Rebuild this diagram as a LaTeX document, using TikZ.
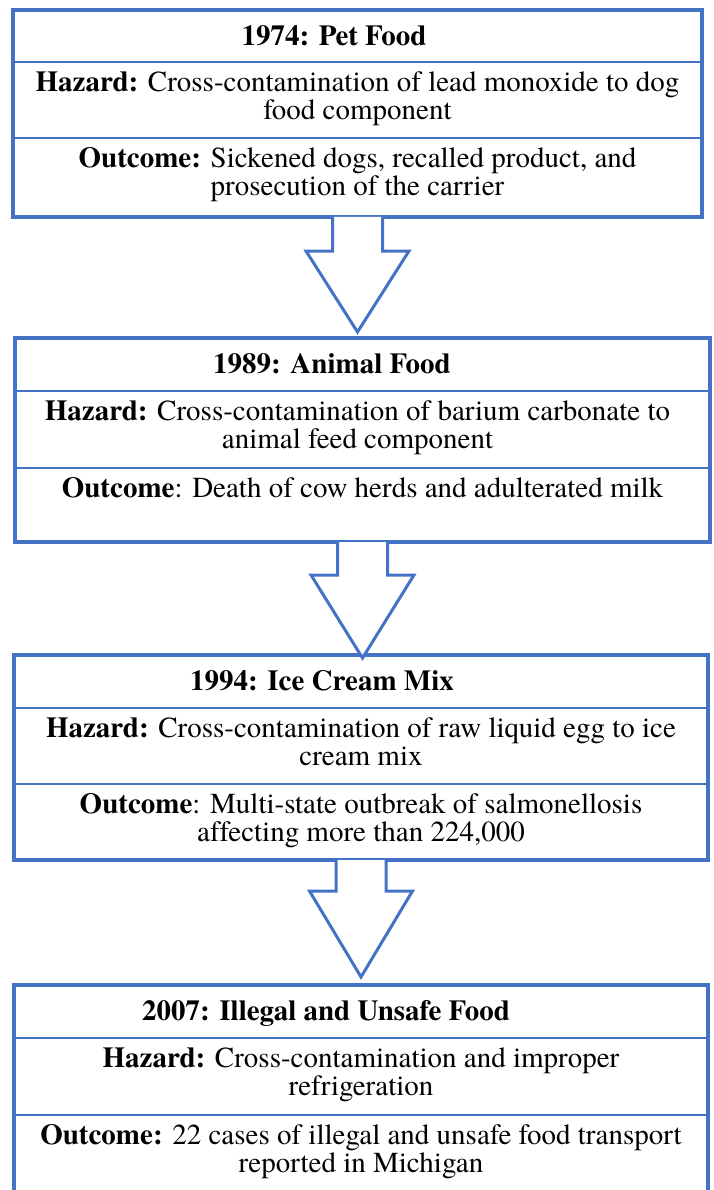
\documentclass[tikz,border=0pt]{standalone}
\usepackage{fontspec}
\setmainfont{texgyretermes}[Extension=.otf,
  UprightFont=*-regular, BoldFont=*-bold,
  ItalicFont=*-italic, BoldItalicFont=*-bolditalic,
  Ligatures=NoCommon]
\usetikzlibrary{calc}
\definecolor{boxblue}{HTML}{4472C4}
\begin{document}
\begin{tikzpicture}
  [x=1pt,y=-1pt,
  box/.style = {rectangle, draw=boxblue, line width=4pt,
                inner sep=0pt, outer sep=0pt},
  rule/.style = {draw=boxblue, line width=2.5pt},
  txt/.style = {align=center, inner sep=0pt, anchor=north,
                font=\fontsize{29}{28}\selectfont,
                execute at begin node=\strut},
  hdr/.style = {txt, font=\fontsize{29}{28}\selectfont\bfseries},
  flow/.style = {draw=boxblue, fill=white, line width=3pt}]
  \useasboundingbox (0,0) rectangle (714,1190);
  \node[box, minimum width=689pt, minimum height=207pt] (pet) at (357.5,113.5) {};
  \node[box, minimum width=695pt, minimum height=204pt] (animal) at (362.5,440) {};
  \node[box, minimum width=694pt, minimum height=205pt] (icecream) at (361,757.5) {};
  \node[box, minimum width=694pt, minimum height=209pt] (illegal) at (361,1089.5) {};
  \draw[rule] ($(pet.north west)+(0,52)$) -- ($(pet.north east)+(0,52)$);
  \draw[rule] ($(pet.north west)+(0,128)$) -- ($(pet.north east)+(0,128)$);
  \draw[rule] ($(animal.north west)+(0,53)$) -- ($(animal.north east)+(0,53)$);
  \draw[rule] ($(animal.north west)+(0,130)$) -- ($(animal.north east)+(0,130)$);
  \draw[rule] ($(icecream.north west)+(0,53)$) -- ($(icecream.north east)+(0,53)$);
  \draw[rule] ($(icecream.north west)+(0,129)$) -- ($(icecream.north east)+(0,129)$);
  \draw[rule] ($(illegal.north west)+(0,53)$) -- ($(illegal.north east)+(0,53)$);
  \draw[rule] ($(illegal.north west)+(0,130)$) -- ($(illegal.north east)+(0,130)$);
  \draw[flow] ($(pet.south)+(-25,0)$) -- ++(0,34) -- ++(-26.5,0)
    -- ($(pet.south |- animal.north)+(0,-6)$) -- ($(pet.south)+(51.5,34)$)
    -- ++(-26.5,0) -- ++(0,-34);
  \draw[flow] ($(animal.south)+(-25,0)$) -- ++(0,33) -- ++(-26.5,0)
    -- ($(animal.south |- icecream.north)+(0,3)$) -- ($(animal.south)+(51.5,33)$)
    -- ++(-26.5,0) -- ++(0,-33);
  \draw[flow] ($(icecream.south)+(-25,0)$) -- ++(0,31) -- ++(-26.5,0)
    -- ($(icecream.south |- illegal.north)+(0,-8)$) -- ($(icecream.south)+(51.5,31)$)
    -- ++(-26.5,0) -- ++(0,-31);
  \node[hdr] (pettitle) at ($(pet.north)+(-23.5,15.4)$) {1974: Pet Food};
  \node[txt] (pethazard) at ($(pet.north)+(0,61.4)$)
    {\textbf{Hazard:} Cross-contamination of lead monoxide to dog\\food component};
  \node[txt] (petoutcome) at ($(pet.north)+(0,137.4)$)
    {\textbf{Outcome:} Sickened dogs, recalled product, and\\prosecution of the carrier};
  \node[hdr] (animaltitle) at ($(animal.north)+(-30.5,15.4)$) {1989: Animal Food};
  \node[txt] (animalhazard) at ($(animal.north)+(-5,62.4)$)
    {\textbf{Hazard:} Cross-contamination of barium carbonate to\\animal feed component};
  \node[txt] (animaloutcome) at ($(animal.north)+(0,139.4)$)
    {\textbf{Outcome}: Death of cow herds and adulterated milk};
  \node[hdr] (icecreamtitle) at ($(icecream.north)+(-39,15.4)$) {1994: Ice Cream Mix};
  \node[txt] (icecreamhazard) at ($(icecream.north)+(0,62.4)$)
    {\textbf{Hazard:} Cross-contamination of raw liquid egg to ice\\cream mix};
  \node[txt] (icecreamoutcome) at ($(icecream.north)+(0,138.4)$)
    {\textbf{Outcome}: Multi-state outbreak of salmonellosis\\affecting more than 224,000};
  \node[hdr] (illegaltitle) at ($(illegal.north)+(-35,15.4)$) {2007: Illegal and Unsafe Food};
  \node[txt] (illegalhazard) at ($(illegal.north)+(0,62.4)$)
    {\textbf{Hazard:} Cross-contamination and improper\\refrigeration};
  \node[txt] (illegaloutcome) at ($(illegal.north)+(0,139.4)$)
    {\textbf{Outcome:} 22 cases of illegal and unsafe food transport\\reported in Michigan};
\end{tikzpicture}
\end{document}
